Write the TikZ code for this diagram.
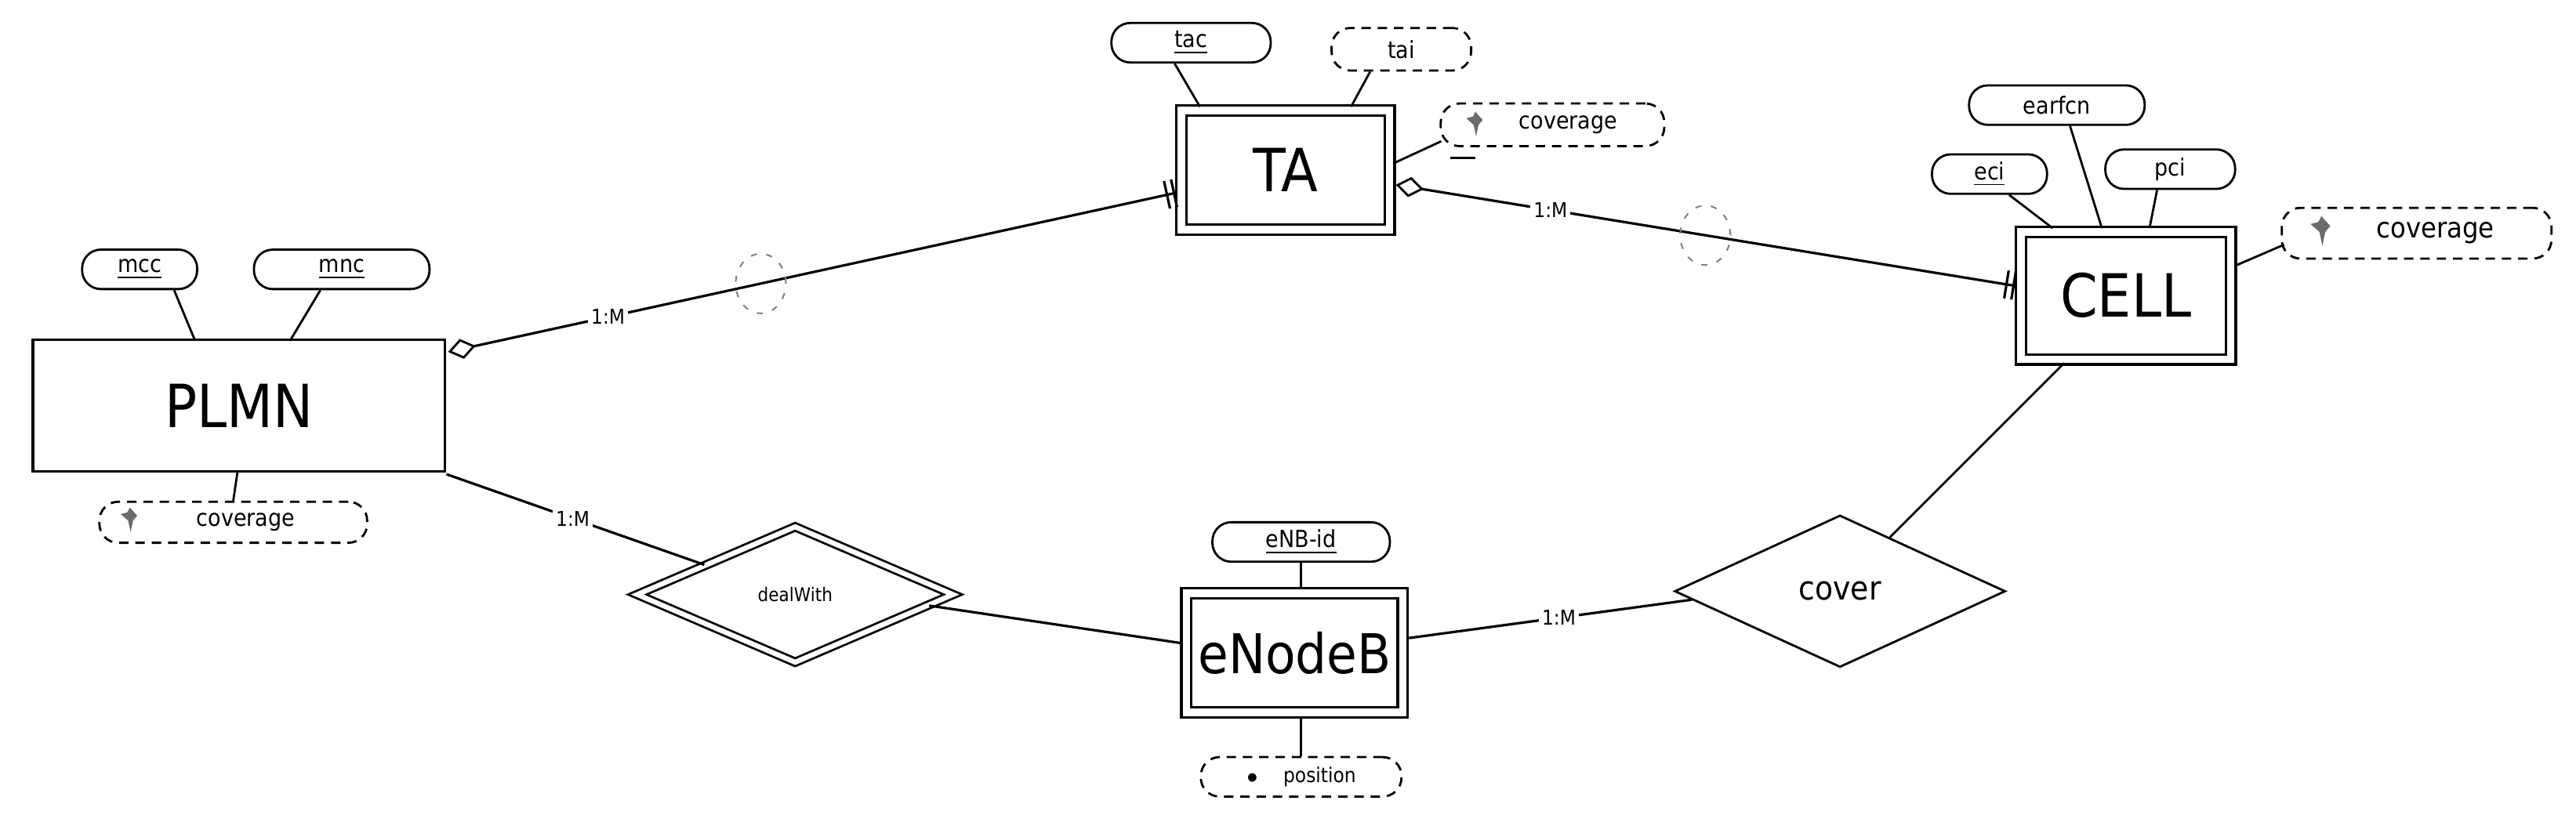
\documentclass[tikz,border=0pt]{standalone}
\usepackage{fontspec}
\setmainfont{DejaVu Sans Condensed}
\usetikzlibrary{shapes.geometric,arrows.meta,calc}
\begin{document}
\begin{tikzpicture}[x=0.524pt,y=-0.524pt,
  line width=0.8pt,
  ent/.style={draw, double, double distance=2.4pt, line width=0.8pt, inner sep=0pt, font=\fontsize{19}{19}\selectfont},
  plain/.style={draw, line width=0.8pt, inner sep=0pt, font=\fontsize{19}{19}\selectfont},
  att/.style={draw, rounded corners=6pt, inner sep=0pt, minimum height=12.6pt, font=\fontsize{7.5}{8}\selectfont, line width=0.7pt},
  datt/.style={att, dash pattern=on 3pt off 2.2pt},
  rel/.style={draw, diamond, inner sep=0pt, line width=0.7pt},
  card/.style={fill=white, inner sep=1pt, font=\fontsize{6.5}{7}\selectfont},
  ringmark/.style={draw=gray, dash pattern=on 2pt off 3pt, line width=0.5pt, ellipse, minimum width=16pt, minimum height=19pt, inner sep=0pt},
  icon/.pic={\fill[gray!85!black] (0,-7)--(4.5,-2)--(2,1)--(0.5,8)--(-1,1)--(-5.5,-3)--(-1.5,-4)--cycle;}
]
\useasboundingbox (0,0) rectangle (1568,502.6);

% entities
\node[plain, minimum width=131.5pt, minimum height=41.9pt] (plmn) at (145.5,247) {PLMN};
\node[ent, minimum width=66.4pt, minimum height=38pt] (ta) at (782.5,103.5) {TA};
\node[ent, minimum width=66.9pt, minimum height=40.7pt] (cell) at (1294,180) {CELL};
\node[ent, minimum width=69pt, minimum height=38pt, font=\fontsize{17.5}{18}\selectfont] (enb) at (788,397.5) {eNodeB};

% relationships
\node[rel, double, double distance=1.6pt, minimum width=101pt, minimum height=43.5pt, font=\fontsize{6}{6}\selectfont] (deal) at (484,362) {dealWith};
\node[rel, minimum width=105.5pt, minimum height=48.5pt, font=\fontsize{10.5}{11}\selectfont] (cover) at (1120,360) {cover};

% attributes
\node[att, minimum width=36.7pt] (mcc) at (85,164) {\underline{mcc}};
\node[att, minimum width=56pt] (mnc) at (208,164) {\underline{mnc}};
\node[datt, minimum width=85.4pt, minimum height=13.1pt] (pcov) at (142,318) {\hspace{8pt}coverage\hspace{8pt}};
\pic at (79,316) {icon};

\node[att, minimum width=50.8pt] (tac) at (725,26) {\underline{tac}};
\node[datt, minimum width=44.5pt, minimum height=13.6pt] (tai) at (853,30) {tai};
\node[datt, minimum width=71.3pt, minimum height=13.6pt] (tcov) at (945,76) {\hspace{10pt}coverage\hspace{8pt}};
\pic at (898,75) {icon};
\draw[line width=0.7pt] (883,96) -- (898,96);

\node[att, minimum width=36.7pt] (eci) at (1211,106) {\underline{eci}};
\node[att, minimum width=56pt] (earfcn) at (1252,64) {earfcn};
\node[att, minimum width=41.4pt] (pci) at (1321,103) {pci};
\node[datt, minimum width=86pt, minimum height=16.2pt, font=\fontsize{9}{10}\selectfont] (ccov) at (1471,142) {\hspace{12pt}coverage\hspace{8pt}};
\pic[scale=1.2] at (1413,140) {icon};

\node[att, minimum width=56.6pt] (enbid) at (792,330) {\underline{eNB-id}};
\node[datt, minimum width=64pt, minimum height=12.6pt, font=\fontsize{6.5}{7}\selectfont] (pos) at (792,473) {$\bullet$\hspace{8pt}position\hspace{6pt}};

% attribute links
\draw[line width=0.7pt] ($(mcc.south)+(21,0)$) -- ($(plmn.north west)+(99,0)$);
\draw[line width=0.7pt] ($(mnc.south)+(-13,0)$) -- ($(plmn.north west)+(158,0)$);
\draw[line width=0.7pt] ($(plmn.south)+(-1,0)$) -- ($(pcov.north)+(0,0)$);
\draw[line width=0.7pt] ($(tac.south)+(-10,0)$) -- ($(ta.north west)+(12,-1.5)$);
\draw[line width=0.7pt] ($(tai.south)+(-19,0)$) -- ($(ta.north west)+(104,-1.5)$);
\draw[line width=0.7pt] ($(ta.east)+(1.5,-4)$) -- ($(tcov.west)+(1,10)$);
\draw[line width=0.7pt] ($(eci.south)+(12,0)$) -- ($(cell.north west)+(20,-1.5)$);
\draw[line width=0.7pt] ($(earfcn.south)+(8,0)$) -- ($(cell.north west)+(50,-1.5)$);
\draw[line width=0.7pt] ($(pci.south)+(-8,0)$) -- ($(cell.north west)+(79,-1.5)$);
\draw[line width=0.7pt] ($(cell.east)+(1.5,-18)$) -- ($(ccov.west)+(2,7)$);
\draw[line width=0.7pt] (enbid.south) -- ($(enb.north)+(4,-1.5)$);
\draw[line width=0.7pt] ($(enb.south)+(4,1.5)$) -- (pos.north);

% relationship links
\draw[line width=0.8pt, {Diamond[open,length=9pt,width=6.5pt,line width=0.7pt]}-{Bar[width=9pt,sep=1.5pt]Bar[width=9pt]}]
  ($(plmn.north east)+(1,8)$) -- node[card, pos=0.22]{1:M} node[ringmark, pos=0.43]{} ($(ta.west)+(-3,14)$);
\draw[line width=0.8pt, {Diamond[open,length=9pt,width=6.5pt,line width=0.7pt]}-{Bar[width=9pt,sep=1.5pt]Bar[width=9pt]}]
  ($(ta.east)+(3,9)$) -- node[card, pos=0.25]{1:M} node[ringmark, pos=0.5]{} ($(cell.west)+(-3,-6)$);
\draw[line width=0.8pt] ($(plmn.south east)+(0,1)$) -- node[card, pos=0.49]{1:M} ($(deal.north)!0.57!(deal.west)$);
\draw[line width=0.8pt] ($(deal.east)!0.16!(deal.south)$) -- ($(enb.west)+(-3,-6)$);
\draw[line width=0.8pt] ($(enb.east)+(3,-9)$) -- node[card, pos=0.53]{1:M} ($(cover.west)!0.11!(cover.south)$);
\draw[line width=0.7pt] ($(cell.south west)+(27,1.5)$) -- ($(cover.north)!0.3!(cover.east)$);
\end{tikzpicture}
\end{document}
